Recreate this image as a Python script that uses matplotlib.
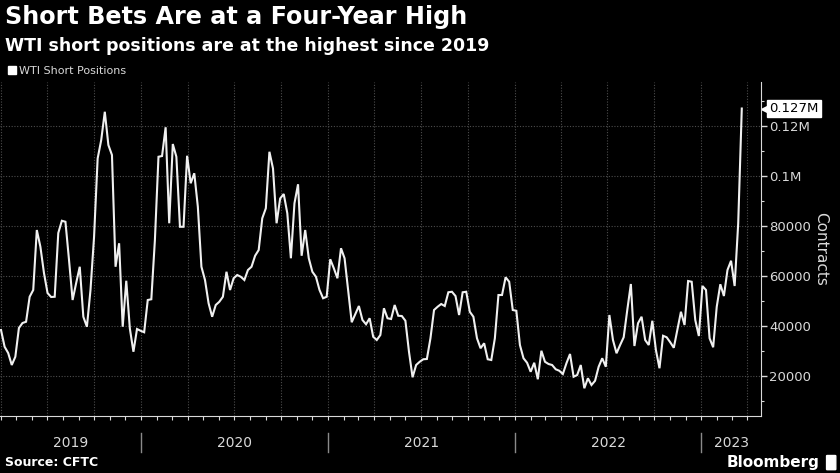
import matplotlib
matplotlib.use('Agg')
import matplotlib.pyplot as plt
import matplotlib.dates as mdates
import matplotlib.ticker as mticker
from matplotlib.patches import Patch, FancyBboxPatch
import numpy as np
import pandas as pd

# WTI short positions, weekly (Tuesdays), thousands of contracts
start_date = '2019-04-02'
short_2019 = [38.4, 31.7, 29.2, 24.4, 27.7, 39.2, 41.2, 41.7, 51.7, 54.4,
              78.4, 71.7, 61.2, 53.2, 51.6, 51.7, 77.2, 82.1, 81.7, 66.4,
              50.4, 57.2, 63.7, 43.7, 39.7, 54.4, 75.7, 107.0, 114.4, 125.7,
              112.4, 108.4, 63.7, 73.1, 39.7, 58.1, 39.0, 29.7, 38.8, 38.1]
short_2020 = [37.5, 50.4, 50.7, 74.4, 107.7, 108.0, 119.5, 81.1, 112.8, 107.7,
              79.7, 79.7, 108.1, 97.1, 101.1, 87.7, 63.7, 58.4, 49.1, 43.7,
              48.4, 49.7, 51.7, 61.7, 54.4, 59.1, 60.4, 59.7, 58.4, 62.4,
              63.7, 68.1, 70.4, 83.1, 87.1, 109.7, 103.0, 81.1, 91.0, 92.8,
              85.1, 67.1, 89.1, 96.7, 68.1, 78.4, 67.1, 61.7, 59.7, 54.4,
              51.1, 51.7]
short_2021 = [66.7, 63.1, 59.1, 71.1, 67.1, 54.4, 41.5, 44.8, 48.0, 42.4,
              40.7, 43.1, 35.7, 34.4, 36.4, 47.1, 43.1, 42.8, 48.4, 44.1,
              44.0, 42.1, 29.7, 19.5, 24.4, 25.7, 26.7, 26.8, 35.1, 46.4,
              47.7, 48.8, 48.0, 53.5, 53.7, 52.0, 44.4, 53.5, 53.7, 45.7,
              43.7, 35.1, 31.1, 33.1, 26.7, 26.4, 35.1, 52.4, 52.4, 59.5,
              57.7, 46.4]
short_2022 = [46.1, 32.4, 27.1, 25.3, 21.7, 25.3, 18.7, 30.1, 25.7, 24.8,
              24.4, 22.7, 22.1, 20.8, 25.1, 28.8, 19.7, 20.4, 24.4, 15.1,
              19.1, 16.4, 18.1, 23.7, 27.1, 23.7, 44.4, 34.4, 29.1, 32.4,
              35.5, 46.4, 56.8, 32.0, 41.1, 43.7, 34.4, 32.4, 42.1, 30.4,
              23.1, 36.1, 35.5, 33.5, 31.3, 38.4, 45.7, 40.4, 58.0, 57.7,
              42.4, 36.0]
short_2023 = [56.0, 54.4, 35.1, 31.5, 47.7, 56.7, 52.0, 62.4, 66.1, 56.0,
              81.1, 127.0]

years = [2019, 2020, 2021, 2022, 2023]
y_ticks = [20000, 40000, 60000, 80000, 100000, 120000]

values = np.array(short_2019 + short_2020 + short_2021 + short_2022 + short_2023) * 1000
dates = pd.date_range(start_date, periods=len(values), freq='7D')

x_lo = pd.Timestamp('2019-03-31')
x_hi = pd.Timestamp('2023-04-27')

BG = '#000000'
GRID = '#4d4d4d'
TXT = '#d9d9d9'


def fmt_y(v, pos):
    if v >= 100000:
        return f'{v / 1e6:g}M'
    return f'{int(v)}'


def main():
    fig = plt.figure(figsize=(8.4, 4.73), dpi=100, facecolor=BG)
    ax = fig.add_axes([0.0, 0.1205, 0.9056, 0.7061], facecolor=BG)

    ax.plot(dates, values, color='#f0f0f0', lw=1.5, solid_joinstyle='miter')

    ax.set_xlim(x_lo, x_hi)
    ax.set_ylim(4000, 137600)

    # y axis on the right
    ax.yaxis.tick_right()
    ax.set_yticks(y_ticks)
    ax.yaxis.set_major_formatter(mticker.FuncFormatter(fmt_y))
    ax.yaxis.set_minor_locator(mticker.MultipleLocator(10000))
    ax.tick_params(axis='y', which='major', colors=TXT, labelcolor=TXT,
                   labelsize=9.5, length=4, width=1, pad=2)
    ax.tick_params(axis='y', which='minor', colors=TXT, length=2.5, width=0.8)
    ax.yaxis.set_label_position('right')
    ax.set_ylabel('Contracts', color=TXT, fontsize=11, rotation=270, labelpad=12)

    # x axis: quarterly grid, monthly ticks
    ax.xaxis.set_major_locator(mdates.MonthLocator(bymonth=[1, 4, 7, 10]))
    ax.xaxis.set_minor_locator(mdates.MonthLocator())
    ax.xaxis.set_major_formatter(mticker.NullFormatter())
    ax.tick_params(axis='x', which='both', colors=TXT, length=3, width=0.8)

    ax.grid(True, which='major', color=GRID, ls=(0, (1, 1.5)), lw=0.8)
    ax.set_axisbelow(True)

    for side in ['top', 'left']:
        ax.spines[side].set_visible(False)
    ax.spines['bottom'].set_color(TXT)
    ax.spines['right'].set_color(TXT)

    # year labels and separators under the axis
    tr = ax.get_xaxis_transform()
    for yr in years:
        a = max(pd.Timestamp(f'{yr}-01-01'), x_lo)
        b = min(pd.Timestamp(f'{yr + 1}-01-01'), x_hi)
        mid = a + (b - a) / 2
        ax.text(mid, -0.082, str(yr), transform=tr, ha='center', va='center',
                color=TXT, fontsize=10)
        if yr > years[0]:
            d = pd.Timestamp(f'{yr}-01-01')
            ax.plot([d, d], [-0.05, -0.108], transform=tr, color='#8a8a8a',
                    lw=1, clip_on=False)

    # last value tag
    last = values[-1]
    ax.plot([1.0075], [last], marker='<', ms=6.5, color='white',
            transform=ax.get_yaxis_transform(), clip_on=False)
    ax.text(1.011, last, f'{last / 1e6:.3f}M', transform=ax.get_yaxis_transform(),
            ha='left', va='center', color='black', fontsize=9.5,
            bbox=dict(boxstyle='square,pad=0.16', fc='white', ec='white'))

    # titles
    fig.text(0.006, 0.99, 'Short Bets Are at a Four-Year High', ha='left', va='top',
             color='white', fontsize=17.2, fontweight='bold')
    fig.text(0.006, 0.922, 'WTI short positions are at the highest since 2019', ha='left',
             va='top', color='white', fontsize=12.5, fontweight='bold')
    fig.legend(handles=[Patch(color='white', label='WTI Short Positions')],
               loc='center left', bbox_to_anchor=(0.0, 0.85), frameon=False,
               handlelength=0.7, handleheight=0.7, handletextpad=0.3,
               fontsize=8, labelcolor=TXT, borderaxespad=0.3)

    fig.text(0.006, 0.023, 'Source: CFTC', ha='left', va='center', color='white',
             fontsize=9, fontweight='bold')
    fig.text(0.975, 0.023, 'Bloomberg', ha='right', va='center', color='white',
             fontsize=11, fontweight='bold')
    fig.patches.append(FancyBboxPatch((0.985, 0.008), 0.009, 0.028,
                                      boxstyle='round,pad=0.001', fc='white', ec='white',
                                      transform=fig.transFigure, figure=fig))

    fig.savefig('out.png', dpi=100, facecolor=BG)


if __name__ == "__main__":
    main()
